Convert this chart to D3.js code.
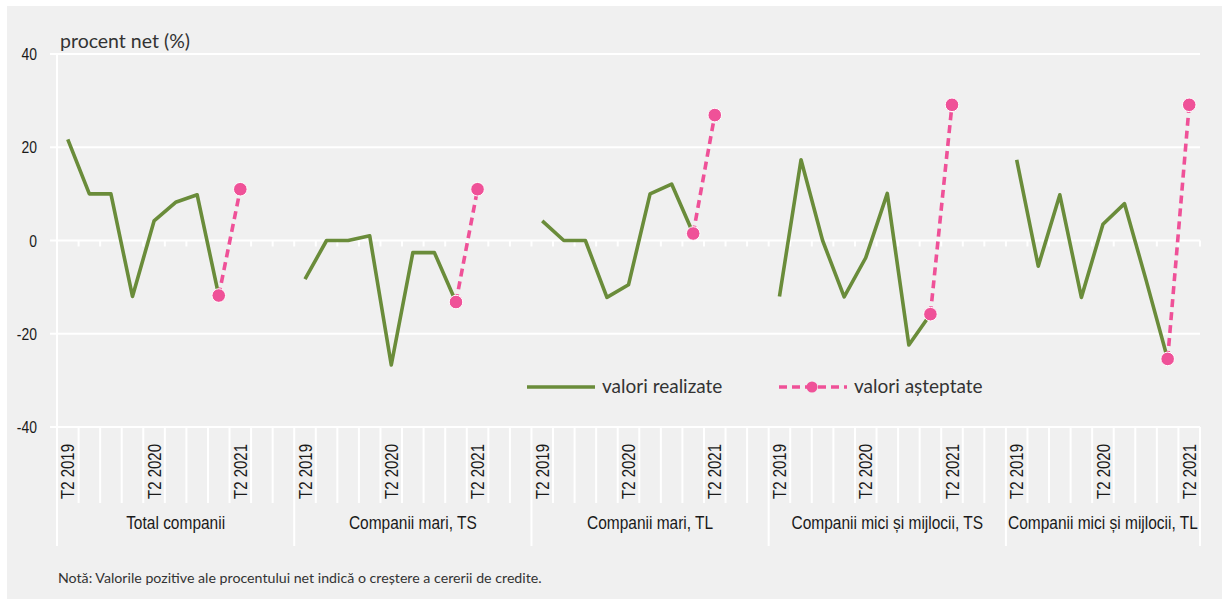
<!DOCTYPE html>
<html>
<head>
<meta charset="utf-8">
<script src="https://cdn.jsdelivr.net/npm/d3@7"></script>
<style>
  html, body { margin: 0; padding: 0; background: #ffffff; }
  svg { display: block; }
  .narrow { font-family: 'Liberation Sans', Arial, sans-serif; }
</style>
</head>
<body>
<svg id="chart" width="1222" height="599"></svg>
<script>
// ---- data ----
const groups = ["Total companii", "Companii mari, TS", "Companii mari, TL", "Companii mici și mijlocii, TS", "Companii mici și mijlocii, TL"];
const quarters = ["T2 2019","T3 2019","T4 2019","T1 2020","T2 2020","T3 2020","T4 2020","T1 2021","T2 2021","T3 2021","T4 2021"];
const groupQuarterCounts = [11, 11, 11, 11, 9];
const shownTickLabels = ["T2 2019", "T2 2020", "T2 2021"];
const yTicks = [40, 20, 0, -20, -40];

// realized values (T2 2019 .. T1 2021)
const realizedTotal   = [21.7, 10.0, 10.0, -12.0, 4.2, 8.2, 9.8, -11.8];
const realizedMariTS  = [-8.3, 0.0, 0.0, 1.0, -26.7, -2.6, -2.6, -13.2];
const realizedMariTL  = [4.2, 0.0, 0.0, -12.2, -9.5, 10.0, 12.1, 1.5];
const realizedIMMTS   = [-12.0, 17.3, 0.0, -12.1, -3.7, 10.1, -22.4, -15.8];
const realizedIMMTL   = [17.3, -5.5, 9.8, -12.2, 3.5, 7.9, -8.5, -25.4];
// expected values (T1 2021, T2 2021)
const expectedTotal   = [-11.8, 11.0];
const expectedMariTS  = [-13.2, 11.0];
const expectedMariTL  = [1.5, 26.9];
const expectedIMMTS   = [-15.8, 29.1];
const expectedIMMTL   = [-25.4, 29.1];
const expectedStartIndex = 7;

const realizedSeries = [realizedTotal, realizedMariTS, realizedMariTL, realizedIMMTS, realizedIMMTL];
const expectedSeries = [expectedTotal, expectedMariTS, expectedMariTL, expectedIMMTS, expectedIMMTL];

const legendLabels = ["valori realizate", "valori așteptate"];
const yTitle = "procent net (%)";
const note = "Notă: Valorile pozitive ale procentului net indică o creștere a cererii de credite.";

// ---- style ----
const GREEN = "#6a8c3a";
const PINK = "#ef5198";
const BG = "#f0f0f0";
const humanist = "Lato, 'Open Sans', sans-serif";
const SQUEEZE = 0.82;

const svg = d3.select("#chart");
svg.append("rect").attr("x", 7).attr("y", 6).attr("width", 1222 - 7).attr("height", 599 - 6).attr("fill", BG);

// flat keys
const keys = [];
groups.forEach((g, gi) => {
  for (let q = 0; q < groupQuarterCounts[gi]; q++) keys.push(gi + "|" + q);
});

const x = d3.scaleBand().domain(keys).range([57, 1200]).paddingInner(0).paddingOuter(0);
const y = d3.scaleLinear().domain([-40, 40]).range([427, 54]);
const bw = x.bandwidth();
const cx = k => x(k) + bw / 2;

// gridlines
svg.append("g").selectAll("line").data(yTicks).join("line")
  .attr("x1", 50).attr("x2", 1200)
  .attr("y1", d => y(d)).attr("y2", d => y(d))
  .attr("stroke", "#ffffff").attr("stroke-width", 2);

// y axis line
svg.append("line").attr("x1", 57).attr("x2", 57).attr("y1", y(40)).attr("y2", 546)
  .attr("stroke", "#ffffff").attr("stroke-width", 2);

// small ticks on zero line at band boundaries
const boundaries = keys.map(k => x(k)).concat([1200]);
svg.append("g").selectAll("line").data(boundaries.slice(1)).join("line")
  .attr("x1", d => d).attr("x2", d => d)
  .attr("y1", y(0)).attr("y2", y(0) + 6)
  .attr("stroke", "#ffffff").attr("stroke-width", 2);

// category tick separators below axis
const groupStarts = [];
let acc = 0;
groupQuarterCounts.forEach(c => { groupStarts.push(acc); acc += c; });
const groupBoundaryIdx = new Set(groupStarts.concat([keys.length]));
svg.append("g").selectAll("line").data(boundaries.map((b, i) => ({b, i}))).join("line")
  .attr("x1", d => d.b).attr("x2", d => d.b)
  .attr("y1", y(-40))
  .attr("y2", d => groupBoundaryIdx.has(d.i) ? 546 : 503)
  .attr("stroke", "#ffffff").attr("stroke-width", 2);

// y tick labels
svg.append("g").selectAll("text").data(yTicks).join("text")
  .attr("class", "narrow")
  .attr("transform", d => `translate(37,${y(d)}) scale(${SQUEEZE},1)`)
  .attr("dy", "0.36em")
  .attr("text-anchor", "end")
  .attr("font-size", 17)
  .attr("fill", "#1a1a1a")
  .text(d => d);

// y title
svg.append("text").attr("x", 60).attr("y", 48)
  .attr("font-family", humanist).attr("font-size", 19.5).attr("fill", "#333")
  .text(yTitle);

// x tick labels (rotated)
svg.append("g").selectAll("text").data(keys.filter(k => shownTickLabels.includes(quarters[+k.split("|")[1]]))).join("text")
  .attr("class", "narrow")
  .attr("transform", k => `translate(${cx(k)},444) rotate(-90) scale(${SQUEEZE},1)`)
  .attr("dy", "0.36em")
  .attr("text-anchor", "end")
  .attr("font-size", 18.3).attr("fill", "#1a1a1a")
  .text(k => quarters[+k.split("|")[1]]);

// group labels
svg.append("g").selectAll("text").data(groups).join("text")
  .attr("class", "narrow")
  .attr("transform", (g, gi) => {
    const s = x(keys[groupStarts[gi]]);
    const e = x(keys[groupStarts[gi] + groupQuarterCounts[gi] - 1]) + bw;
    return `translate(${(s + e) / 2},529) scale(${SQUEEZE},1)`;
  })
  .attr("text-anchor", "middle")
  .attr("font-size", 18.9).attr("fill", "#1a1a1a")
  .text(d => d);

// lines
const line = d3.line().x(d => d[0]).y(d => d[1]);
realizedSeries.forEach((vals, gi) => {
  const pts = vals.map((v, i) => [cx(gi + "|" + i), y(v)]);
  svg.append("path").attr("d", line(pts))
    .attr("fill", "none").attr("stroke", GREEN).attr("stroke-width", 3.6)
    .attr("stroke-linejoin", "round");
});
expectedSeries.forEach((vals, gi) => {
  const pts = vals.map((v, i) => [cx(gi + "|" + (expectedStartIndex + i)), y(v)]);
  svg.append("path").attr("d", line(pts))
    .attr("fill", "none").attr("stroke", PINK).attr("stroke-width", 3.6)
    .attr("stroke-dasharray", "8,5");
  svg.append("g").selectAll("circle").data(pts).join("circle")
    .attr("cx", d => d[0]).attr("cy", d => d[1]).attr("r", 6.8)
    .attr("fill", PINK).attr("stroke", "#ffffff").attr("stroke-width", 1);
});

// legend
const lg = svg.append("g");
lg.append("line").attr("x1", 527).attr("x2", 595).attr("y1", 387).attr("y2", 387)
  .attr("stroke", GREEN).attr("stroke-width", 3.6);
lg.append("text").attr("x", 602).attr("y", 393)
  .attr("font-family", humanist).attr("font-size", 19).attr("fill", "#333").text(legendLabels[0]);
lg.append("line").attr("x1", 779).attr("x2", 847).attr("y1", 387).attr("y2", 387)
  .attr("stroke", PINK).attr("stroke-width", 3.6).attr("stroke-dasharray", "8,5");
lg.append("circle").attr("cx", 812).attr("cy", 387).attr("r", 5.5).attr("fill", PINK);
lg.append("text").attr("x", 854).attr("y", 393)
  .attr("font-family", humanist).attr("font-size", 19).attr("fill", "#333").text(legendLabels[1]);

// note
svg.append("text").attr("x", 58).attr("y", 583)
  .attr("font-family", humanist).attr("font-size", 14.2).attr("fill", "#333").text(note);
</script>
</body>
</html>
